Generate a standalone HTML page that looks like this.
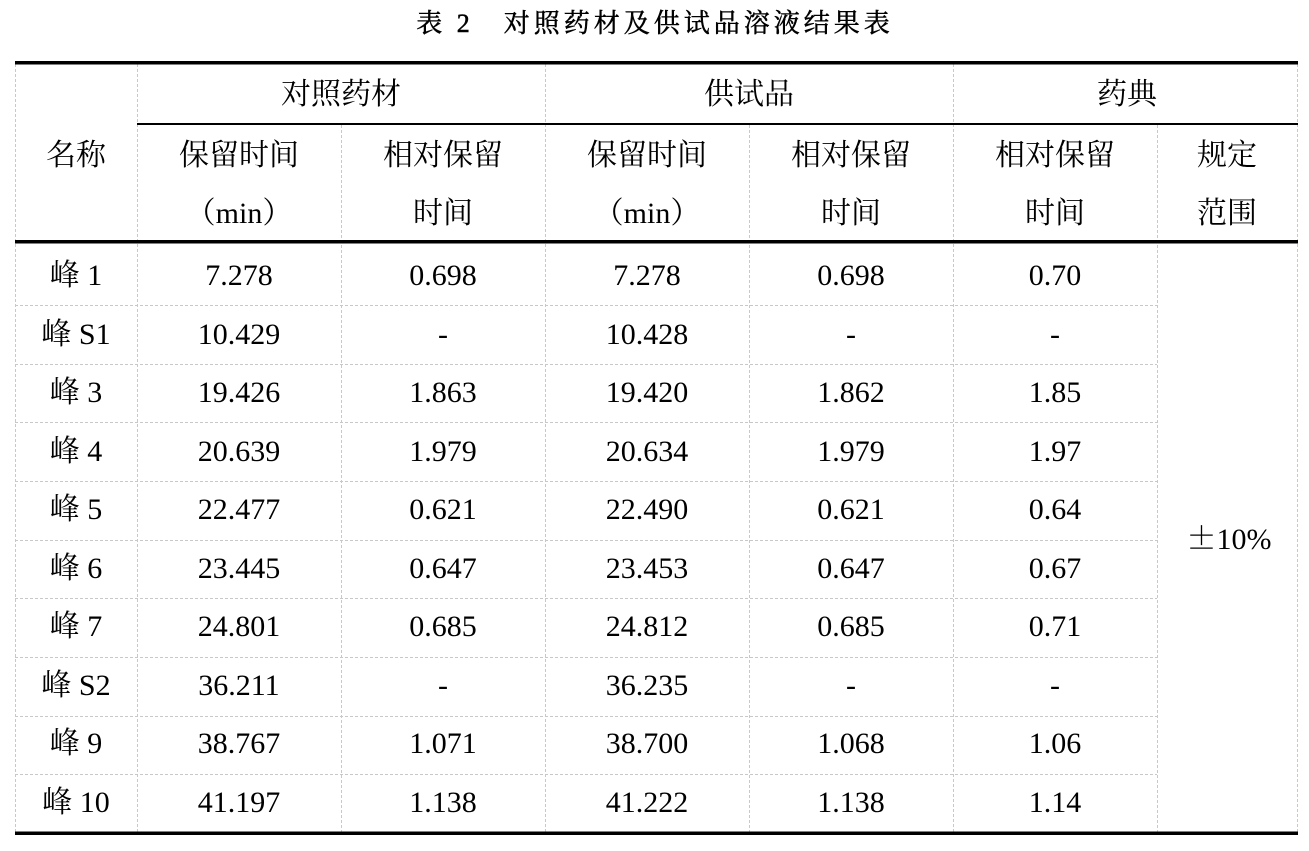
<!DOCTYPE html>
<html><head><meta charset="utf-8"><style>
body{margin:0;background:#fff}
svg text{font-family:"Liberation Serif","Noto Serif CJK SC",serif;font-size:30px;fill:#000;text-anchor:middle}
</style></head><body>
<svg width="1309" height="846" xmlns="http://www.w3.org/2000/svg">
<text x="655" y="32" style="font-size:26px;letter-spacing:4px;stroke:#000;stroke-width:0.5">表 2　对照药材及供试品溶液结果表</text>
<g stroke="#c8c8c8" stroke-width="1" stroke-dasharray="3,2" fill="none">
<line x1="15.5" y1="64" x2="15.5" y2="832"/>
<line x1="137.5" y1="64" x2="137.5" y2="832"/>
<line x1="341.5" y1="125" x2="341.5" y2="832"/>
<line x1="545.5" y1="64" x2="545.5" y2="832"/>
<line x1="749.5" y1="125" x2="749.5" y2="832"/>
<line x1="953.5" y1="64" x2="953.5" y2="832"/>
<line x1="1157.5" y1="125" x2="1157.5" y2="832"/>
<line x1="1297.5" y1="64" x2="1297.5" y2="832"/>
<line x1="15" y1="305.5" x2="1157" y2="305.5"/>
<line x1="15" y1="364.5" x2="1157" y2="364.5"/>
<line x1="15" y1="422.5" x2="1157" y2="422.5"/>
<line x1="15" y1="481.5" x2="1157" y2="481.5"/>
<line x1="15" y1="540.5" x2="1157" y2="540.5"/>
<line x1="15" y1="598.5" x2="1157" y2="598.5"/>
<line x1="15" y1="657.5" x2="1157" y2="657.5"/>
<line x1="15" y1="716.5" x2="1157" y2="716.5"/>
<line x1="15" y1="774.5" x2="1157" y2="774.5"/>
</g>
<rect x="15" y="61" width="1283" height="3.5" fill="#000"/>
<rect x="137" y="123" width="1161" height="2" fill="#000"/>
<rect x="15" y="240" width="1283" height="3.5" fill="#000"/>
<rect x="15" y="831.5" width="1283" height="3.5" fill="#000"/>
<text x="341" y="104">对照药材</text>
<text x="749" y="104">供试品</text>
<text x="1127" y="104">药典</text>
<text x="76" y="165">名称</text>
<text x="239" y="165">保留时间</text><text x="239" y="223">（min）</text>
<text x="443" y="165">相对保留</text><text x="443" y="223">时间</text>
<text x="647" y="165">保留时间</text><text x="647" y="223">（min）</text>
<text x="851" y="165">相对保留</text><text x="851" y="223">时间</text>
<text x="1055" y="165">相对保留</text><text x="1055" y="223">时间</text>
<text x="1227" y="165">规定</text><text x="1227" y="223">范围</text>
<text x="1229" y="549"><tspan style='font-family:"Noto Serif CJK SC",serif'>±</tspan>10%</text>
<g>
<text x="76" y="285">峰 1</text><text x="239" y="285">7.278</text><text x="443" y="285">0.698</text><text x="647" y="285">7.278</text><text x="851" y="285">0.698</text><text x="1055" y="285">0.70</text>
<text x="76" y="344">峰 S1</text><text x="239" y="344">10.429</text><text x="443" y="344">-</text><text x="647" y="344">10.428</text><text x="851" y="344">-</text><text x="1055" y="344">-</text>
<text x="76" y="402">峰 3</text><text x="239" y="402">19.426</text><text x="443" y="402">1.863</text><text x="647" y="402">19.420</text><text x="851" y="402">1.862</text><text x="1055" y="402">1.85</text>
<text x="76" y="461">峰 4</text><text x="239" y="461">20.639</text><text x="443" y="461">1.979</text><text x="647" y="461">20.634</text><text x="851" y="461">1.979</text><text x="1055" y="461">1.97</text>
<text x="76" y="519">峰 5</text><text x="239" y="519">22.477</text><text x="443" y="519">0.621</text><text x="647" y="519">22.490</text><text x="851" y="519">0.621</text><text x="1055" y="519">0.64</text>
<text x="76" y="578">峰 6</text><text x="239" y="578">23.445</text><text x="443" y="578">0.647</text><text x="647" y="578">23.453</text><text x="851" y="578">0.647</text><text x="1055" y="578">0.67</text>
<text x="76" y="636">峰 7</text><text x="239" y="636">24.801</text><text x="443" y="636">0.685</text><text x="647" y="636">24.812</text><text x="851" y="636">0.685</text><text x="1055" y="636">0.71</text>
<text x="76" y="695">峰 S2</text><text x="239" y="695">36.211</text><text x="443" y="695">-</text><text x="647" y="695">36.235</text><text x="851" y="695">-</text><text x="1055" y="695">-</text>
<text x="76" y="753">峰 9</text><text x="239" y="753">38.767</text><text x="443" y="753">1.071</text><text x="647" y="753">38.700</text><text x="851" y="753">1.068</text><text x="1055" y="753">1.06</text>
<text x="76" y="812">峰 10</text><text x="239" y="812">41.197</text><text x="443" y="812">1.138</text><text x="647" y="812">41.222</text><text x="851" y="812">1.138</text><text x="1055" y="812">1.14</text>
</g>
</svg>
</body></html>
